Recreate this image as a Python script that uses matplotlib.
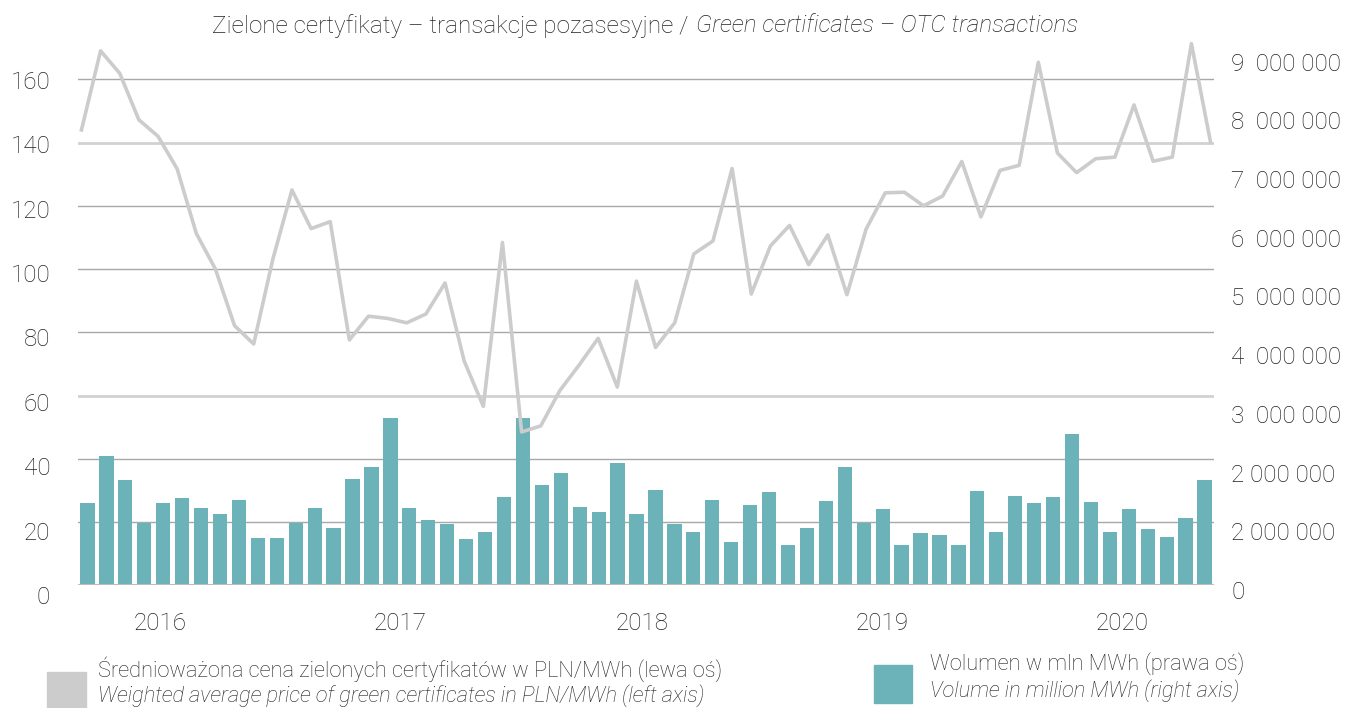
import matplotlib.pyplot as plt
import matplotlib.patches as patches
import numpy as np

plt.rcParams['font.family'] = ['Roboto', 'DejaVu Sans']

# średnioważona cena (lewa oś), 60 miesięcy
price = [144.0, 169.0, 161.9, 147.2, 142.0, 131.7, 111.3, 100.0, 82.1, 76.3,
         103.1, 125.0, 112.8, 115.0, 77.6, 85.1, 84.4, 83.0, 85.8, 95.6,
         70.9, 56.6, 108.4, 48.5, 50.4, 61.6, 69.6, 78.1, 62.7, 96.2,
         75.2, 83.0, 104.8, 108.9, 131.8, 92.1, 107.3, 113.8, 101.4, 110.8,
         91.9, 112.6, 124.1, 124.3, 120.0, 123.1, 134.0, 116.5, 131.2, 132.8,
         165.4, 136.7, 130.5, 134.9, 135.4, 151.9, 134.1, 135.4, 171.3, 140.1]

# wolumen - wysokości słupków tak jak na wykresie
volume = [26.0, 41.0, 33.3, 19.8, 26.0, 27.6, 24.4, 22.5, 26.9, 15.1,
          15.1, 19.8, 24.4, 18.0, 33.7, 37.5, 52.8, 24.4, 20.6, 19.3,
          14.5, 17.0, 27.9, 52.8, 31.7, 35.6, 24.7, 23.1, 38.8, 22.5,
          30.1, 19.3, 17.0, 26.9, 13.8, 25.3, 29.5, 12.6, 18.0, 26.6,
          37.5, 19.8, 24.1, 12.6, 16.4, 15.8, 12.6, 29.8, 17.0, 28.2,
          26.0, 27.9, 47.7, 26.3, 17.0, 24.1, 17.7, 15.4, 21.2, 33.3]

years = ['2016', '2017', '2018', '2019', '2020']
year_ticks = [3.82, 16.54, 29.28, 41.95, 54.67]

left_ticks = [0, 20, 40, 60, 80, 100, 120, 140, 160]
right_ticks = [0, 1e6, 2e6, 3e6, 4e6, 5e6, 6e6, 7e6, 8e6, 9e6]
right_labels = ['0', '2 000 000', '2 000 000', '3  000 000', '4  000 000',
                '5  000 000', '6  000 000', '7  000 000', '8  000 000', '9  000 000']

TXT = '#222222'
TEAL = '#6bb3b8'
GREY = '#cccccc'
W, H = 1347, 708

fig = plt.figure(figsize=(13.47, 7.08), dpi=100)
ax = fig.add_axes([78 / W, 122.7 / H, 1136 / W, 545.5 / H])

x = np.arange(len(volume))
ax.bar(x, volume, width=0.755, color=TEAL, zorder=2)
ax.set_xlim(-0.5, 59.5)
ax.set_ylim(0, 172.5)

# linie siatki
for v in left_ticks[1:]:
    if v in (60, 140):
        ax.axhline(v, color='#d2d2d2', lw=2.0, zorder=0)
    else:
        ax.axhline(v, color='#a8a8a8', lw=1.0, zorder=0)
ax.axhline(0, color='#bdbdbd', lw=1.5, zorder=3)

ax.set_yticks([])
ax.set_xticks(year_ticks)
ax.set_xticklabels(years)
ax.tick_params(axis='x', length=0, pad=19, labelsize=17.5, labelcolor=TXT)
for t in ax.get_xticklabels():
    t.set_fontweight('light')
for s in ax.spines.values():
    s.set_visible(False)

# linia ceny
axl = ax.twiny()
axl.plot(np.arange(len(price)), price, color=GREY, lw=2.6, zorder=4)
axl.set_xlim(-0.18, 59.18)
axl.set_xticks([])
for s in axl.spines.values():
    s.set_visible(False)


def label_axis(ylim):
    a = fig.add_axes([78 / W, (H - 600) / H, 1136 / W, (600 - 39.8) / H])
    a.patch.set_visible(False)
    a.set_xticks([])
    a.set_ylim(*ylim)
    for s in a.spines.values():
        s.set_visible(False)
    return a


# etykiety lewej osi (lekko rozjechane względem siatki, jak w oryginale)
axL = label_axis((-1.553, 172.47))
axL.set_yticks(left_ticks)
axL.set_yticklabels([str(v) for v in left_ticks])
axL.tick_params(axis='y', length=0, pad=20, labelsize=17.5, labelcolor=TXT)
for t in axL.get_yticklabels():
    t.set_fontweight('light')

# prawa oś
axR = label_axis((-0.1703e6, 9.370e6))
axR.yaxis.tick_right()
axR.set_yticks(right_ticks)
axR.set_yticklabels(right_labels)
axR.tick_params(axis='y', length=0, pad=12.5, labelsize=17.5, labelcolor=TXT)
for t in axR.get_yticklabels():
    t.set_fontweight('light')

# tytuł
fig.text(688 / W, 1 - 26 / H, 'Zielone certyfikaty – transakcje pozasesyjne /',
         ha='right', va='center', fontsize=17.5, color=TXT, fontweight='light')
fig.text(696 / W, 1 - 26 / H, 'Green certificates – OTC transactions',
         ha='left', va='center', fontsize=17.5, color=TXT, fontweight='light', style='italic')

# legenda
fig.patches.append(patches.Rectangle((47 / W, 0), 39 / W, 36 / H,
                                     transform=fig.transFigure, color=GREY))
fig.patches.append(patches.Rectangle((874 / W, 5 / H), 38 / W, 38 / H,
                                     transform=fig.transFigure, color=TEAL))
fig.text(98 / W, 1 - 669 / H, 'Średnioważona cena zielonych certyfikatów w PLN/MWh (lewa oś)',
         ha='left', va='center', fontsize=15.7, color=TXT, fontweight='light')
fig.text(98 / W, 1 - 696 / H, 'Weighted average price of green certificates in PLN/MWh (left axis)',
         ha='left', va='center', fontsize=15.7, color=TXT, fontweight='light', style='italic')
fig.text(930 / W, 1 - 664 / H, 'Wolumen w mln MWh (prawa oś)',
         ha='left', va='center', fontsize=15.7, color=TXT, fontweight='light')
fig.text(930 / W, 1 - 691 / H, 'Volume in million MWh (right axis)',
         ha='left', va='center', fontsize=15.7, color=TXT, fontweight='light', style='italic')

fig.savefig('out.png', dpi=100)
